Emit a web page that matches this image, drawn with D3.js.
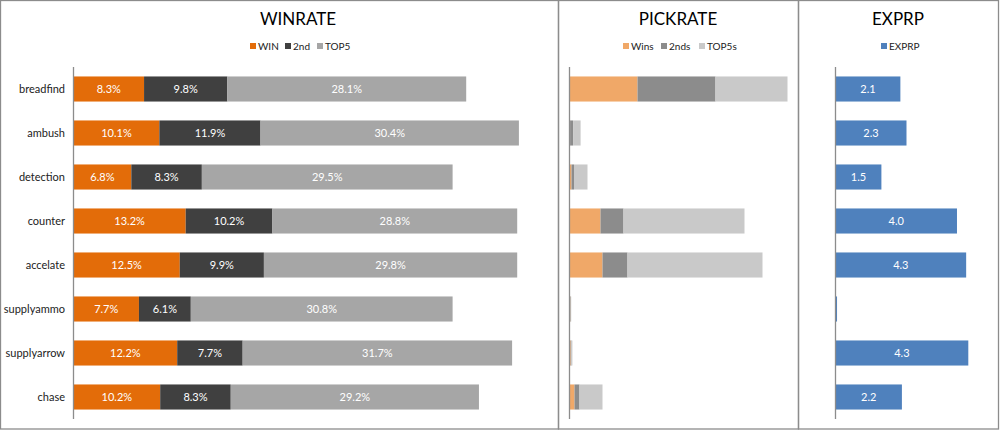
<!DOCTYPE html>
<html><head><meta charset="utf-8">
<script src="https://cdn.jsdelivr.net/npm/d3@7"></script>
<style>body{margin:0;background:#fff}svg{display:block}text{font-family:Lato,"Open Sans",sans-serif}</style>
</head><body><svg id="c" width="1000" height="431"></svg>
<script>
const categories = ["breadfind","ambush","detection","counter","accelate","supplyammo","supplyarrow","chase"];
const winWIN  = [8.3,10.1,6.8,13.2,12.5,7.7,12.2,10.2];
const win2nd  = [9.8,11.9,8.3,10.2,9.9,6.1,7.7,8.3];
const winTOP5 = [28.1,30.4,29.5,28.8,29.8,30.8,31.7,29.2];
const pickWins  = [68,0.6,2,31,33,0.8,1.2,5];
const pick2nds  = [78,3,2.5,23,25,0.5,0.7,5];
const pickTOP5s = [72,7.5,13.5,121,135,0.4,1,23];
const exprp = [2.12,2.32,1.50,3.97,4.27,0.05,4.34,2.17];
const winLegend = ["WIN","2nd","TOP5"];
const pickLegend = ["Wins","2nds","TOP5s"];
const expLegend = ["EXPRP"];

const svg = d3.select("#c");
const y = d3.scaleBand().domain(categories).range([67, 419]).paddingInner(0.43).paddingOuter(0.215);

function panel(x0, x1, title, titleX){
  svg.append("rect").attr("x",x0+0.5).attr("y",0.5).attr("width",x1-x0).attr("height",428.5)
    .attr("fill","none").attr("stroke","#8c8c8c").attr("stroke-width",1.3);
  svg.append("text").attr("x",titleX).attr("y",25).attr("text-anchor","middle")
    .attr("font-size",17).attr("fill","#000").text(title);
}
panel(0,558,"WINRATE",298);
panel(558,798,"PICKRATE",678);
panel(798,998,"EXPRP",898);

function legend(items, colors, xs){
  items.forEach((t,i)=>{
    svg.append("rect").attr("x",xs[i]).attr("y",43).attr("width",6).attr("height",6).attr("fill",colors[i]);
    svg.append("text").attr("x",xs[i]+8).attr("y",49.5).attr("font-size",10).attr("fill","#222").text(t);
  });
}
const wc = ["#E36C09","#404040","#A6A6A6"];
const pc = ["#F0A868","#8C8C8C","#C9C9C9"];
const ec = ["#4F81BD"];
legend(winLegend, wc, [250,285,317]);
legend(pickLegend, pc, [623,661,699]);
legend(expLegend, ec, [881]);

function stacked(series, colors, x, labels){
  categories.forEach((c,i)=>{
    let acc = 0;
    series.forEach((s,k)=>{
      const v = s[i];
      const xa = x(acc), xb = x(acc+v);
      svg.append("rect").attr("x",xa).attr("y",y(c)).attr("width",Math.max(0,xb-xa)).attr("height",y.bandwidth()).attr("fill",colors[k]);
      if(labels){
        svg.append("text").attr("x",(xa+xb)/2).attr("y",y(c)+y.bandwidth()/2+4)
          .attr("text-anchor","middle").attr("font-size",11).attr("fill","#fff").text(labels(v));
      }
      acc += v;
    });
  });
}
function axisLine(x){
  svg.append("line").attr("x1",x).attr("x2",x).attr("y1",67).attr("y2",419).attr("stroke","#8c8c8c").attr("stroke-width",1.3);
}

// WINRATE
const xw = d3.scaleLinear().domain([0,55]).range([73.5,73.5+55*8.5]);
stacked([winWIN,win2nd,winTOP5], wc, xw, v=>v.toFixed(1)+"%");
axisLine(73.5);
categories.forEach(c=>{
  svg.append("text").attr("x",65).attr("y",y(c)+y.bandwidth()/2+4).attr("text-anchor","end")
    .attr("font-size",11).attr("fill","#222").text(c);
});

// PICKRATE
const xp = d3.scaleLinear().domain([0,220]).range([569.5,789.5]);
stacked([pickWins,pick2nds,pickTOP5s], pc, xp, null);
axisLine(569.5);

// EXPRP
const xe = d3.scaleLinear().domain([0,5]).range([835.5,835.5+5*30.6]);
categories.forEach((c,i)=>{
  const v = exprp[i];
  svg.append("rect").attr("x",xe(0)).attr("y",y(c)).attr("width",xe(v)-xe(0)).attr("height",y.bandwidth()).attr("fill",ec[0]);
  if(v>=0.5) svg.append("text").attr("x",(xe(0)+xe(v))/2).attr("y",y(c)+y.bandwidth()/2+4)
    .attr("text-anchor","middle").attr("font-size",11).attr("fill","#fff").text(v.toFixed(1));
});
axisLine(835.5);
</script></body></html>
